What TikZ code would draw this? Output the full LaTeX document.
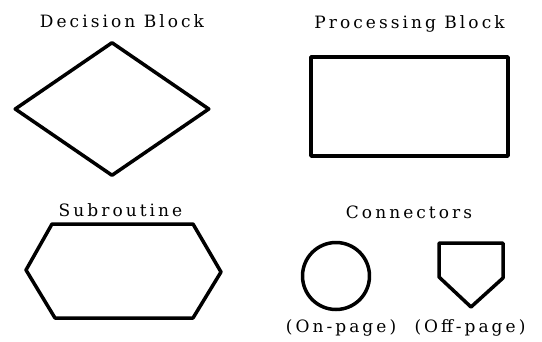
\documentclass[tikz,border=0pt]{standalone}
\usepackage{fontspec}
\usetikzlibrary{shapes.geometric,positioning}
\newfontfamily\ttlfont[LetterSpace=18]{DejaVu Serif}
\tikzset{
  blk/.style={draw,line width=3.5pt,line join=round,inner sep=0pt},
  ttl/.style={font=\ttlfont\fontsize{17}{19}\selectfont,inner sep=0pt,anchor=base},
}

\begin{document}
\begin{tikzpicture}[x=1pt,y=-1pt]
\useasboundingbox (0,0) rectangle (542,341);
% decision
\node[blk,diamond,minimum width=195pt,minimum height=134pt] (dec) at (112,109) {};
\node[ttl] (dect) at (122,27) {Decision Block};
% processing
\node[blk,rectangle,minimum width=197pt,minimum height=99pt] (proc) at (409.5,106.5) {};
\node[ttl] (proct) at (409.5,28) {Processing Block};
% subroutine
\draw[blk] (26,270) -- (52,224) -- (193,224) -- (221,272) -- (193,318) -- (55,318) -- cycle;
\node[ttl] (subt) at (120.5,216) {Subroutine};
% connectors
\node[ttl] (cont) at (409,218) {Connectors};
\node[blk,circle,minimum size=67pt] (onp) at (336,276) {};
\draw[blk] (439,243) -- (503,243) -- (503,278) -- (471,307) -- (439,277) -- cycle;
\node[ttl] (onpt) at (341,332) {(On-page)};
\node[ttl] (offpt) at (470,332) {(Off-page)};
\end{tikzpicture}
\end{document}
